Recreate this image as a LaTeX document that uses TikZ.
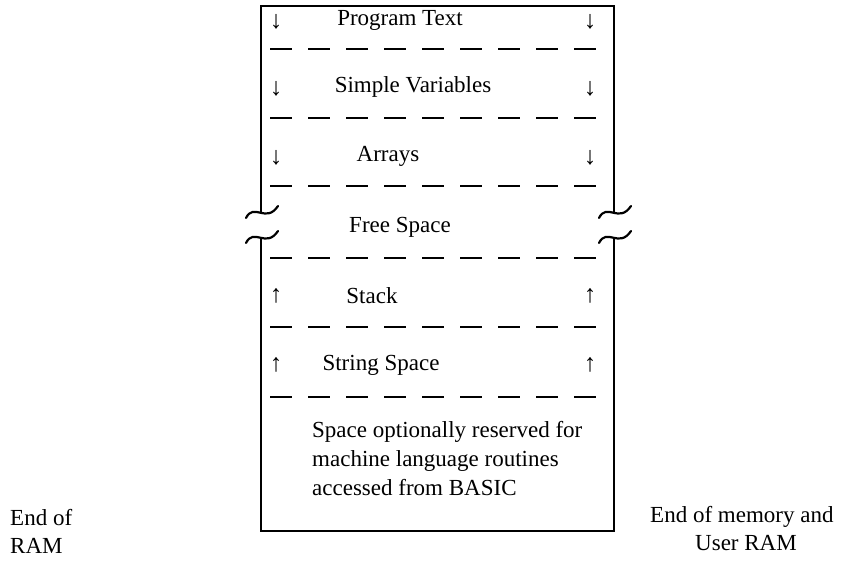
\documentclass[tikz,border=0pt]{standalone}
\usepackage{fontspec}
\setmainfont{Liberation Serif}
\begin{document}
\begin{tikzpicture}[x=1pt,y=-1pt,
  boxline/.style={line width=2.3pt,black},
  sep/.style={line width=2.4pt,dash pattern=on 22pt off 16pt},
  lbl/.style={font=\fontsize{23}{27}\selectfont,inner sep=0pt,anchor=center},
  arr/.style={font=\fontsize{25}{27}\selectfont,inner sep=0pt,anchor=center},
  brk/.style={line width=2.2pt,line cap=round}]
\useasboundingbox[fill=white] (0,0) rectangle (865,566);
% box corners
\coordinate (tl) at (261,6);
\coordinate (tr) at (614,6);
\coordinate (bl) at (261,531);
\coordinate (br) at (614,531);
\coordinate (lbrA) at (261,212);
\coordinate (lbrB) at (261,238);
\coordinate (rbrA) at (614,212);
\coordinate (rbrB) at (614,238);
\draw[boxline] (lbrA) -- (tl) -- (tr) -- (rbrA);
\draw[boxline] (lbrB) -- (bl) -- (br) -- (rbrB);
% break marks
\draw[brk] (246,218) .. controls (254,202) and (266,224) .. (278,206);
\draw[brk] (246,243) .. controls (254,227) and (266,249) .. (278,231);
\draw[brk] (599,218) .. controls (607,202) and (619,224) .. (631,206);
\draw[brk] (599,243) .. controls (607,227) and (619,249) .. (631,231);
% dashed separators
\foreach \y/\n in {49/s1,118/s2,186/s3,258/s4,327/s5,397/s6}{
  \coordinate (\n a) at (270,\y);
  \coordinate (\n b) at (606,\y);
  \draw[sep] (\n a) -- (\n b);
}
% rows
\node[lbl] (t1) at (400,20) {Program Text};
\node[lbl] (t2) at (413,87) {Simple Variables};
\node[lbl] (t3) at (388,156) {Arrays};
\node[lbl] (t4) at (400,227) {Free Space};
\node[lbl] (t5) at (372,296) {Stack};
\node[lbl] (t6) at (381,365) {String Space};
% arrows
\node[arr] (a1l) at (276,22) {↓};
\node[arr] (a1r) at (590,22) {↓};
\node[arr] (a2l) at (276,89) {↓};
\node[arr] (a2r) at (590,89) {↓};
\node[arr] (a3l) at (276,158) {↓};
\node[arr] (a3r) at (590,158) {↓};
\node[arr] (a5l) at (276,296) {↑};
\node[arr] (a5r) at (590,296) {↑};
\node[arr] (a6l) at (276,365) {↑};
\node[arr] (a6r) at (590,365) {↑};
% bottom block
\node[lbl,align=left,anchor=north west] (t7) at (312,421) {Space optionally reserved for\\[2pt]machine language routines\\[2pt]accessed from BASIC};
% outside labels
\node[lbl,anchor=north west,align=left] (endram) at (10,509) {End of\\[1pt]RAM};
\node[lbl,anchor=north west,align=left] (endmem) at (650,506) {End of memory and\\[1pt]\hspace{45pt}User RAM};
\end{tikzpicture}
\end{document}
